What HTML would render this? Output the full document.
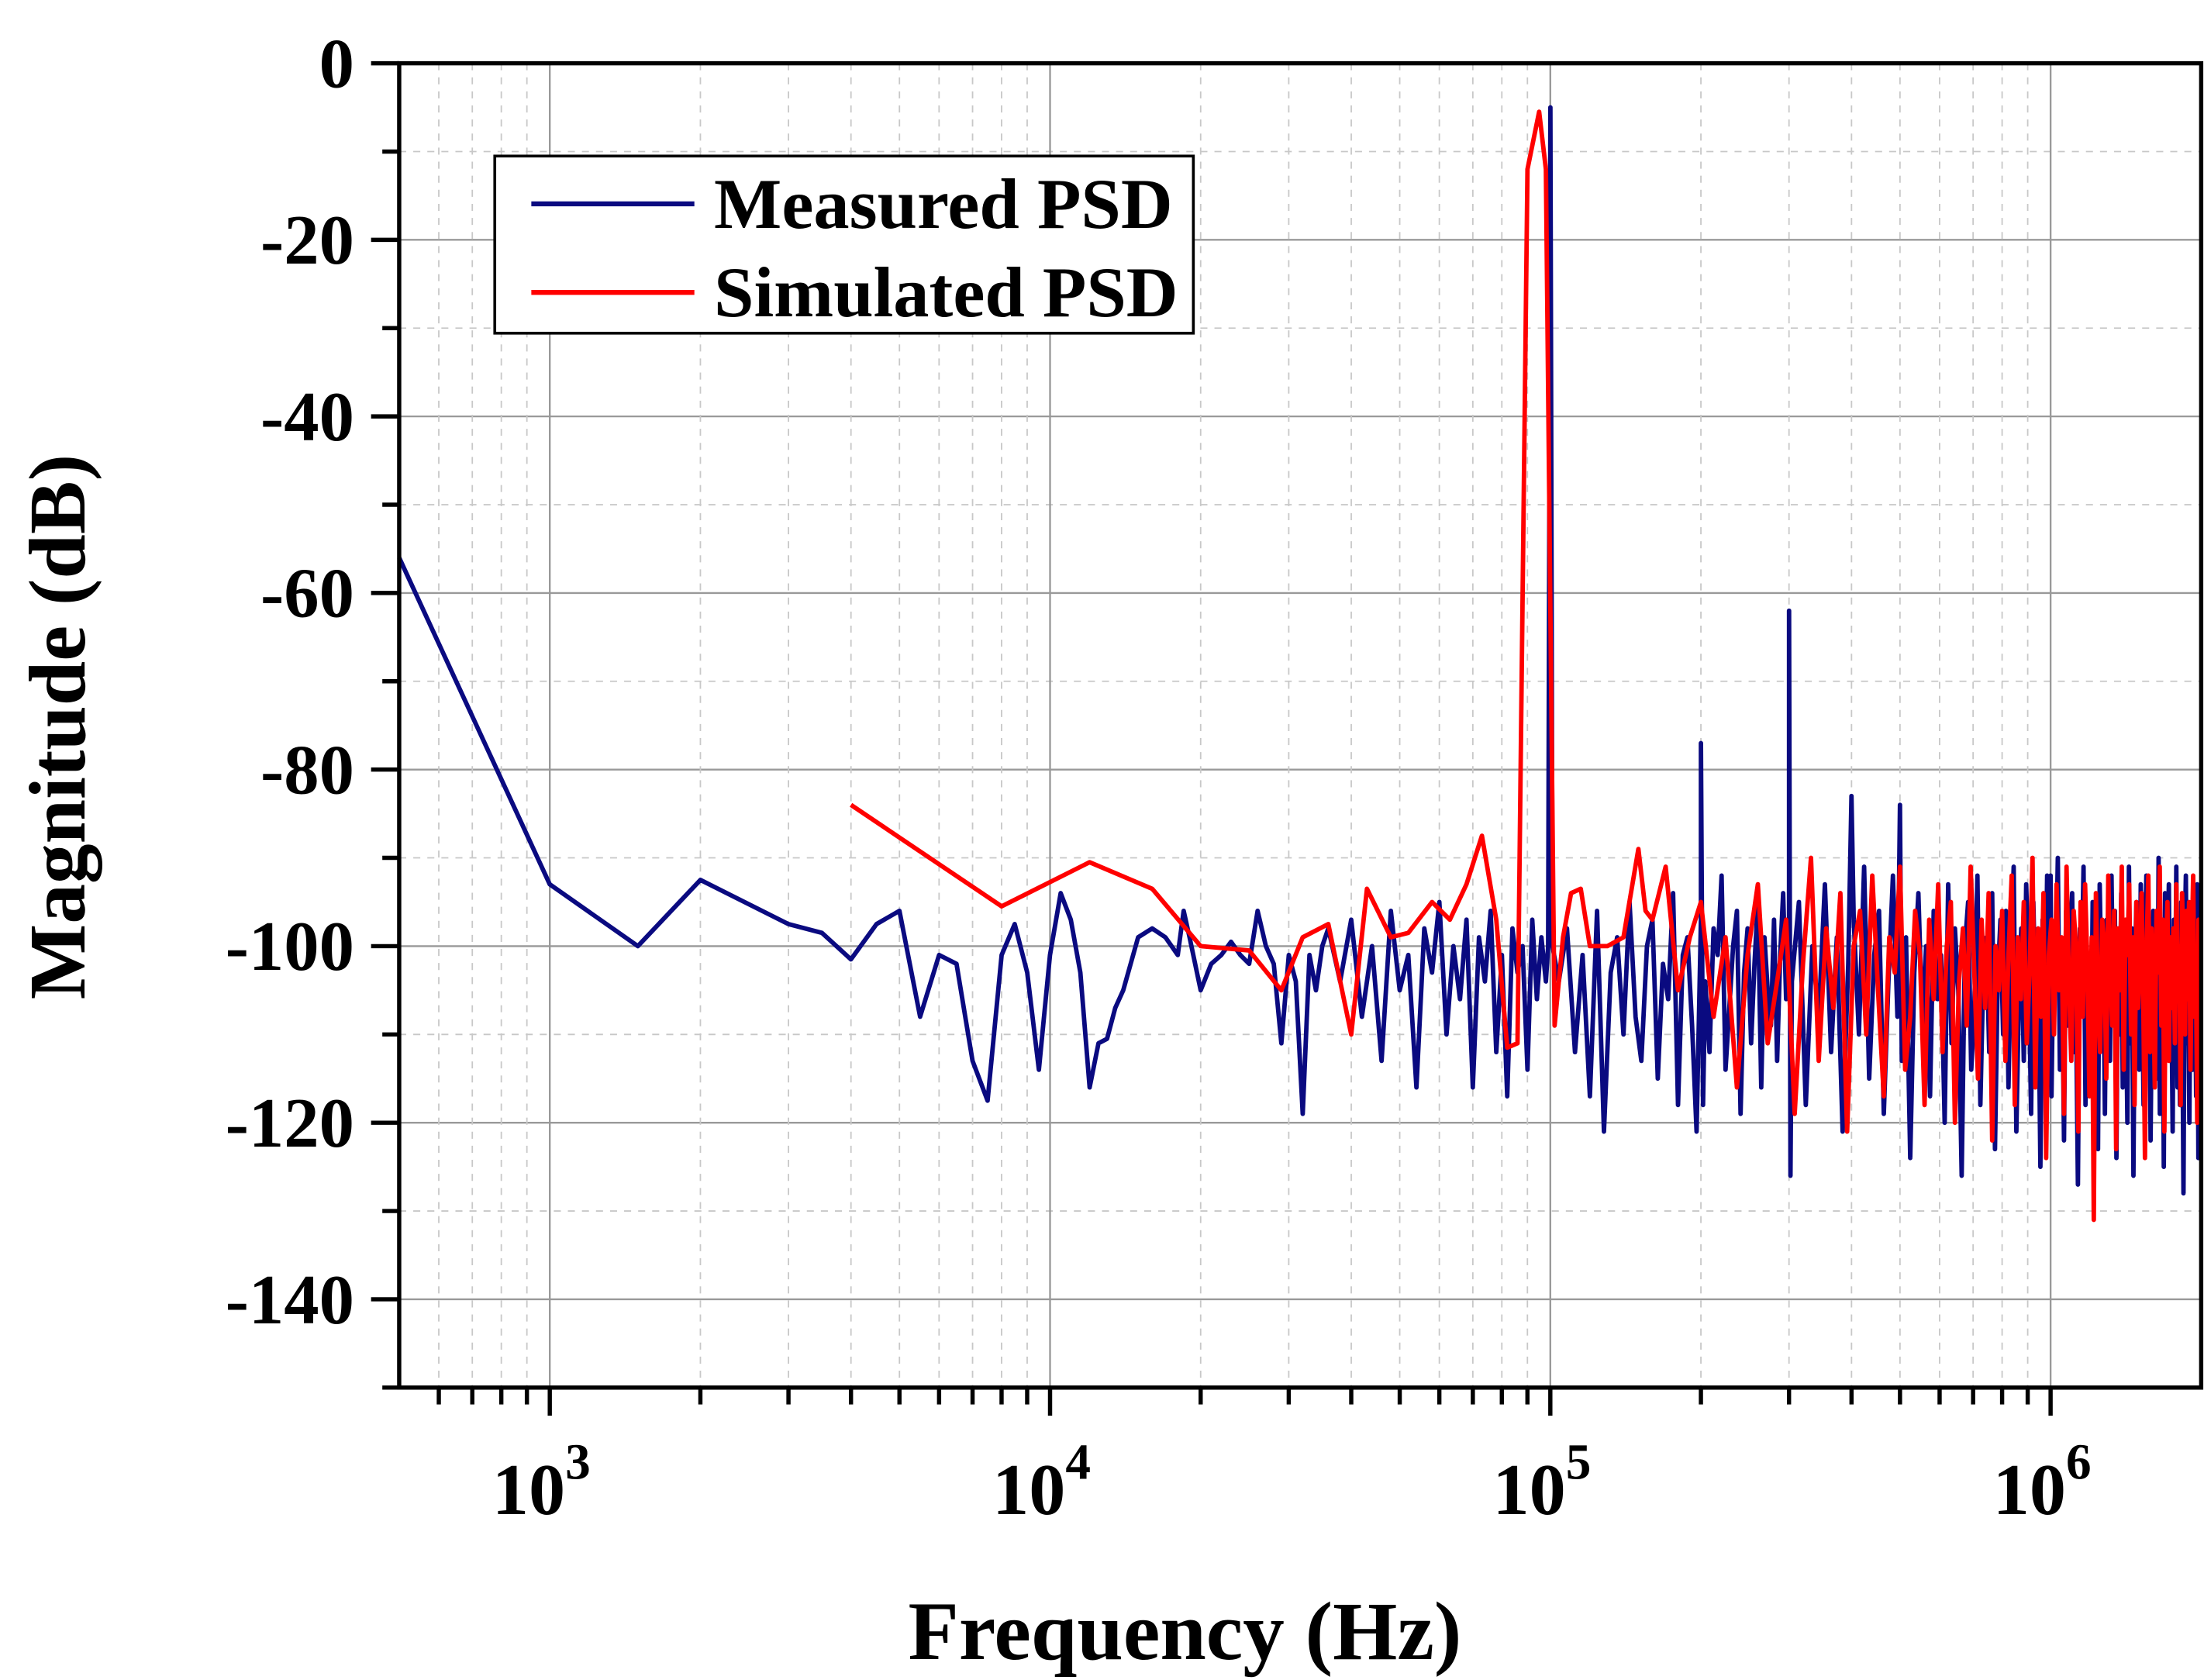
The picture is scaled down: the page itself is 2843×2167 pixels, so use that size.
<!DOCTYPE html>
<html><head><meta charset="utf-8"><style>
html,body{margin:0;padding:0;background:#fff;}
svg{display:block;}
text{font-family:"Liberation Serif",serif;font-weight:bold;fill:#000;}
</style></head><body>
<svg id="chart" width="2843" height="2167" viewBox="0 0 1568 1195" preserveAspectRatio="none" xmlns="http://www.w3.org/2000/svg">
<g id="grid"></g>
<g id="series"></g>
<g id="axes"></g>
<text x="0" y="0" font-size="57" text-anchor="middle" transform="translate(60,517) rotate(-90)">Magnitude (dB)</text>
<text x="843" y="1180" font-size="59" text-anchor="middle">Frequency (Hz)</text>
<g>
<rect x="352" y="111" width="497" height="126" fill="#fff" stroke="#000" stroke-width="2"/>
<line x1="378" y1="145" x2="494" y2="145" stroke="#0a0a80" stroke-width="3.5"/>
<text x="508" y="162" font-size="51">Measured PSD</text>
<line x1="378" y1="208" x2="494" y2="208" stroke="#ff0000" stroke-width="3.5"/>
<text x="508" y="225" font-size="51">Simulated PSD</text>
</g>
</svg>
<script>
const yTicks=[0,-20,-40,-60,-80,-100,-120,-140];
const xDecades=[3,4,5,6];
const measLow=[[500,-56],[1000,-93],[1500,-100],[2000,-92.5],[3000,-97.5],[3500,-98.5],[4000,-101.5],[4500,-97.5],[5000,-96],[5500,-108],[6000,-101],[6500,-102],[7000,-113],[7500,-117.5],[8000,-101],[8500,-97.5],[9000,-103],[9500,-114],[10000,-101],[10500,-94],[11000,-97],[11500,-103],[12000,-116],[12500,-111],[13000,-110.5],[13500,-107],[14000,-105],[15000,-99],[16000,-98],[17000,-99],[18000,-101],[18500,-96],[19000,-99],[20000,-105],[21000,-102],[22000,-101],[23000,-99.5],[24000,-101],[25000,-102],[26000,-96],[27000,-100],[28000,-102],[29000,-111],[30000,-101],[31000,-104],[32000,-119],[33000,-101],[34000,-105],[35000,-100]];
const measMid=[-98,-104,-97,-108,-100,-113,-96,-105,-101,-116,-98,-103,-95,-110,-100,-106,-97,-116,-99,-104,-96,-112,-101,-117,-98,-103,-100,-114,-97,-106,-99,-104];
const measHi1=[-104,-98,-112,-101,-117,-96,-121,-103,-99,-110,-95,-108,-113,-100,-97,-115,-102,-106,-94,-118,-101,-99,-109,-121,-97,-104,-112,-98,-101,-92,-114,-107,-100,-96,-119,-103,-98,-111,-102,-95,-116,-99,-105,-109,-97,-113,-101,-94,-106,-100];
const measHi2=[-104,-95,-118,-100,-108,-93,-112,-99,-121,-102,-97,-110,-91,-115,-101,-96,-119,-104,-92,-108,-113,-99,-124,-103,-94,-109,-100,-117,-96,-106,-101,-120,-93,-111,-98,-105,-126,-100,-95,-114,-107,-92,-118,-102,-99,-112,-94,-123,-104,-97,-110,-96,-116,-100,-91,-121,-106,-98,-113,-93,-103,-119,-95,-108,-101,-125,-97,-111,-92,-105,-117,-99,-104,-90,-114,-102,-122,-96,-109,-100,-94,-112,-106,-127,-98,-103,-91,-118,-101,-108,-115,-95,-110,-99,-123,-93,-105,-100,-119,-97,-102,-113,-92,-107,-96,-124,-101,-110,-94,-116,-99,-105,-120,-91,-111,-98,-126,-103,-95,-109,-114,-93,-104,-118,-100,-92,-112,-97,-122,-106,-96,-108,-101,-115,-90,-119,-103,-99,-125,-94,-110,-100,-93,-113,-105,-121,-97,-107,-91,-116,-103,-118,-95,-109,-128,-99,-92,-111,-104,-120,-98,-106,-114,-94,-101,-117,-93,-124,-100,-108];
const measSpikes=[[99000,-100],[100000,-5],[101000,-100],[200000,-77],[202000,-118],[300000,-62],[302000,-126],[400000,-83],[500000,-84],[1000000,-92]];
const simLow=[[4000,-84],[8000,-95.5],[12000,-90.5],[16000,-93.5],[20000,-100],[25000,-100.5],[29000,-105],[32000,-99],[36000,-97.5],[40000,-110],[43000,-93.5],[48000,-99],[52000,-98.5],[58000,-95],[63000,-97],[68000,-93],[73000,-87.5],[78000,-97],[82000,-111.5],[86000,-111],[90000,-12],[95000,-5.5],[98000,-12],[102000,-109],[106000,-99],[110000,-94],[115000,-93.5],[120000,-100],[130000,-100],[140000,-99],[150000,-89],[155000,-96],[160000,-97],[170000,-91],[180000,-105],[190000,-99]];
const simHi=[-95,-108,-99,-116,-101,-93,-111,-104,-97,-119,-102,-90,-113,-98,-107,-94,-121,-100,-96,-110,-92,-105,-117,-99,-103,-91,-114,-108,-96,-101,-118,-97,-106,-93,-112,-100,-95,-120,-104,-98,-109,-91,-103,-115,-97,-107,-94,-122,-100,-105,-96,-113,-101,-92,-118,-99,-106,-95,-111,-103,-90,-116,-98,-108,-94,-124,-101,-97,-110,-93,-105,-99,-119,-91,-104,-113,-96,-100,-121,-95,-108,-93,-102,-117,-99,-131,-94,-106,-112,-97,-100,-115,-92,-103,-109,-96,-123,-98,-105,-91,-114,-97,-101,-93,-110,-99,-118,-95,-107,-102,-94,-106,-124,-100,-92,-112,-98,-104,-116,-96,-103,-91,-109,-97,-121,-101,-95,-113,-99,-107,-98,-111,-93,-105,-100,-118,-94,-102,-110,-96,-106,-95,-114,-99,-92,-108,-101,-120,-97,-104];

const NS='http://www.w3.org/2000/svg';
const L=284,R=1566,T=45,B=987;
const fMin=500,fMax=2000000,yMin=-150,yMax=0;
function xs(f){return L+(Math.log10(f)-Math.log10(fMin))/(Math.log10(fMax)-Math.log10(fMin))*(R-L);}
function ys(v){return T+(yMax-v)/(yMax-yMin)*(B-T);}
function mk(tag,attrs,parent){const e=document.createElementNS(NS,tag);for(const k in attrs)e.setAttribute(k,attrs[k]);parent.appendChild(e);return e;}
const grid=document.getElementById('grid'),axes=document.getElementById('axes'),series=document.getElementById('series');

for(let v=-10;v>-150;v-=10){
  const major=v%20===0;
  const g=mk('line',{x1:L,x2:R,y1:ys(v),y2:ys(v),stroke:major?'#999':'#c8c8c8','stroke-width':major?1.3:1,'stroke-dasharray':major?'none':'5,5'},grid);
  
  
}
for(let d=2;d<=6;d++){for(let m=1;m<=9;m++){
  const f=m*Math.pow(10,d);if(f<=fMin||f>=fMax)continue;
  const major=m===1;
  const g=mk('line',{x1:xs(f),x2:xs(f),y1:T,y2:B,stroke:major?'#999':'#c8c8c8','stroke-width':major?1.3:1,'stroke-dasharray':major?'none':'5,5'},grid);
  
  
  const t=mk('line',{x1:xs(f),x2:xs(f),y1:B,y2:B+(major?20:12),stroke:'#000','stroke-width':3},axes);
  
  
}}
for(const d of xDecades){
  const t=mk('text',{x:xs(Math.pow(10,d))-6,y:1077,'font-size':52,'text-anchor':'middle'},axes);
  
  
  t.textContent='10';
  const s=mk('tspan',{dy:-25,'font-size':36},t);s.textContent=String(d);
}
for(let v=0;v>=-150;v-=10){
  const major=v%20===0;
  const t=mk('line',{x1:L-(major?20:12),x2:L,y1:ys(v),y2:ys(v),stroke:'#000','stroke-width':3},axes);
  
  
}
for(const v of yTicks){
  const t=mk('text',{x:252,y:ys(v)+17,'font-size':50,'text-anchor':'end'},axes);
  
  
  t.textContent=String(v);
}
const frame=mk('rect',{x:L,y:T,width:R-L,height:B-T,fill:'none',stroke:'#000','stroke-width':3},axes);



let meas=measLow.slice();
measMid.forEach((v,i)=>meas.push([36000+2000*i,v]));
measHi1.forEach((v,i)=>meas.push([104000+4000*i,v]));
measHi2.forEach((v,i)=>meas.push([304000+10000*i,v]));
meas=meas.concat(measSpikes).sort((a,b)=>a[0]-b[0]);
let sim=simLow.slice();
simHi.forEach((v,i)=>sim.push([200000+12000*i,v]));
sim.sort((a,b)=>a[0]-b[0]);
function pathOf(arr){return arr.filter(p=>p[0]<=fMax).map((p,i)=>(i?'L':'M')+xs(p[0]).toFixed(1)+','+ys(p[1]).toFixed(1)).join('');}
const pm=mk('path',{d:pathOf(meas),fill:'none',stroke:'#0a0a80','stroke-width':3.2,'stroke-linejoin':'round'},series);


const ps=mk('path',{d:pathOf(sim),fill:'none',stroke:'#ff0000','stroke-width':3.2,'stroke-linejoin':'round'},series);


</script>
</body></html>
